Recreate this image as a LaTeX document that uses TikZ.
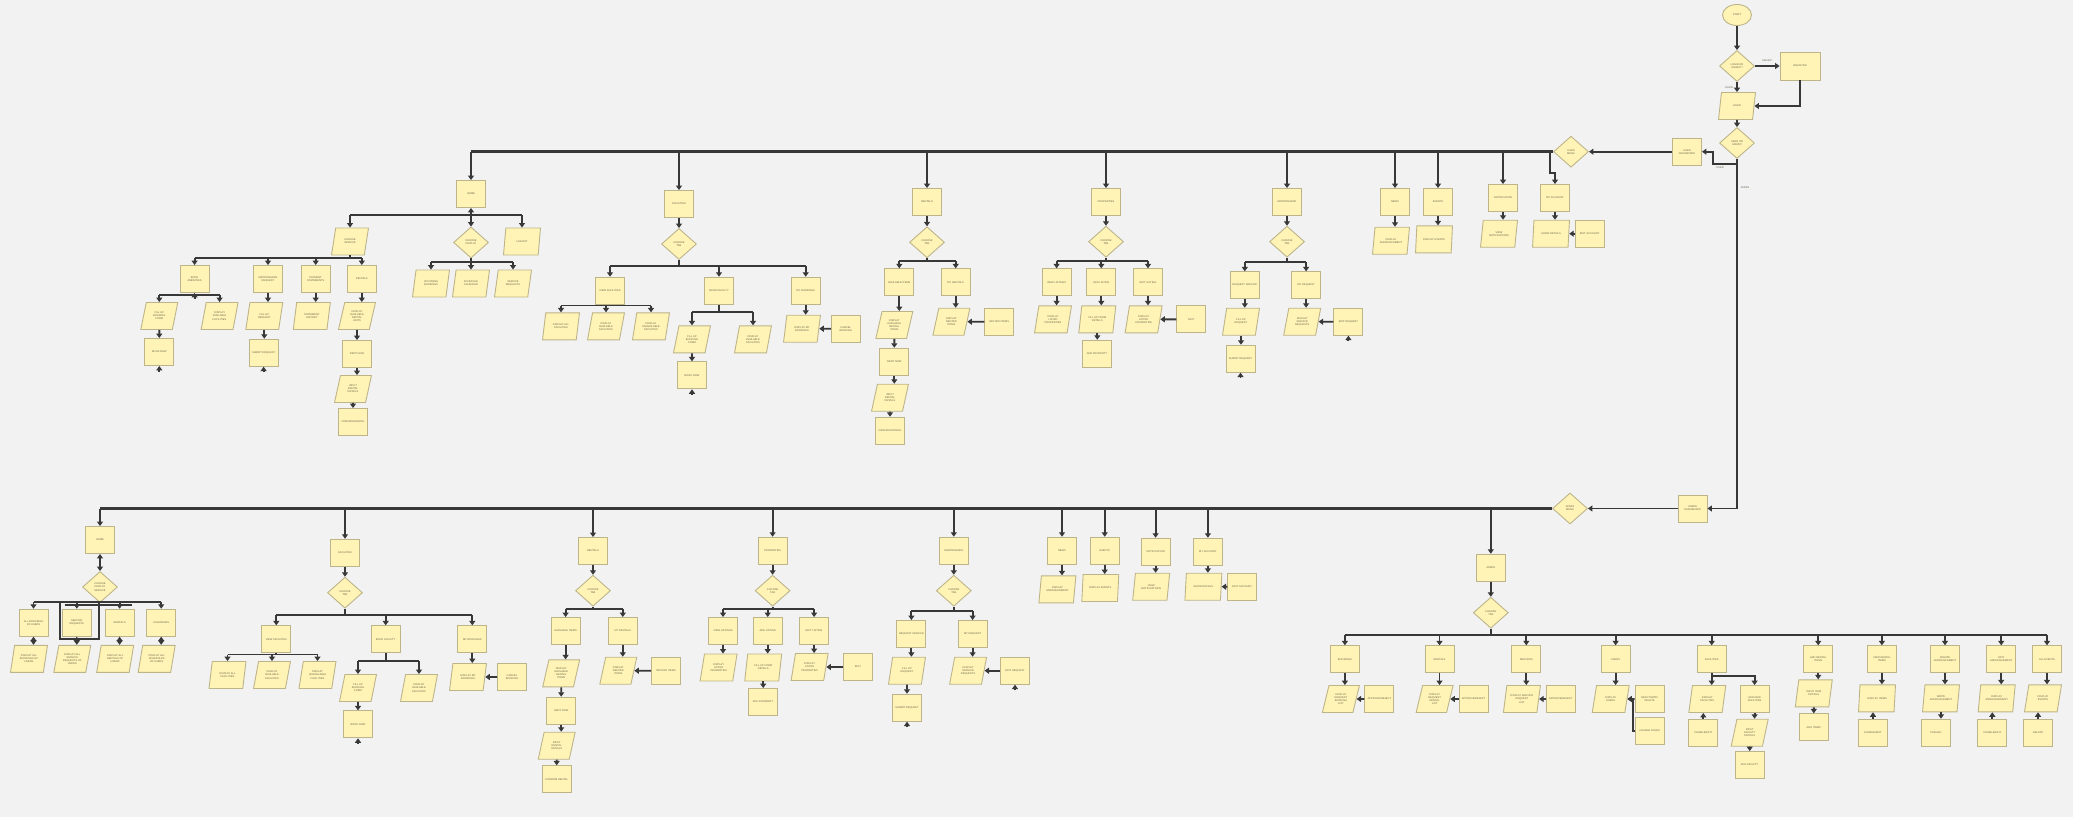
\documentclass[tikz,border=0pt]{standalone}
\usepackage{fontspec}
\setmainfont{Liberation Sans}
\usetikzlibrary{shapes.geometric,arrows.meta}
\definecolor{paper}{HTML}{F2F2F2}
\definecolor{note}{HTML}{FFF4B5}
\definecolor{rim}{HTML}{BDB48A}
\definecolor{ink}{HTML}{383838}
\definecolor{txt}{HTML}{6B6650}
\newcommand\notefont{\fontsize{2.6}{3.1}\selectfont}
\tikzset{
  notebox/.style={draw=rim, fill=note, line width=0.9pt, font=\notefont, text=txt, align=center, inner sep=0.5pt},
  proc/.style={notebox, rectangle, minimum width=29pt, minimum height=27pt},
  io/.style={notebox, trapezium, trapezium left angle=73, trapezium right angle=107, trapezium stretches=true, minimum width=37pt, minimum height=27pt},
  choice/.style={notebox, diamond, aspect=1.13, minimum width=35pt, minimum height=31pt, inner sep=0pt},
  oval/.style={notebox, ellipse, minimum width=29pt, minimum height=21pt},
  flow/.style={draw=ink, line width=1.9pt, -{Triangle[length=4.5pt,width=6pt]}},
  twoway/.style={flow, {Triangle[length=4.5pt,width=6pt]}-{Triangle[length=4.5pt,width=6pt]}},
  barline/.style={draw=ink, line width=1.9pt},
  spine/.style={draw=ink, line width=3pt},
  tag/.style={font=\notefont, text=txt, inner sep=0.5pt},
}
\begin{document}
\begin{tikzpicture}[x=1pt,y=-1pt]
\useasboundingbox (0,0) rectangle (2073,817);
\fill[paper] (0,0) rectangle (2073,817);
% entry
\node[oval] (start) at (1737,15) {START};
\node[choice] (lors) at (1737,66) {LOGIN OR\\SIGNUP?};
\node[proc, minimum width=40pt, minimum height=28pt] (register) at (1800,66) {REGISTER};
\node[io] (login) at (1737,106) {LOGIN};
\node[choice] (uora) at (1737,143) {USER OR\\ADMIN?};
\node[proc] (udash) at (1687,151.7) {USER\\DASHBOARD};
\node[choice] (umenu) at (1571,151.7) {USER\\MENU};
\node[proc] (adash) at (1692.5,508.5) {ADMIN\\DASHBOARD};
\node[choice] (amenu) at (1570,508.5) {ADMIN\\MENU};
\coordinate (ujog) at (1713,164);
\draw[flow] (start) -- (lors);
\draw[flow] (lors) -- (register);
\draw[flow] (lors) -- (login);
\draw[flow] (register.south) |- (login.east);
\draw[flow] (login) -- (uora);
\draw[flow] (uora.south) |- (ujog) |- (udash.east);
\draw[flow] (uora.south) |- (adash.east);
\draw[flow] (udash) -- (umenu);
\draw[flow] (adash) -- (amenu);
\node[tag] (lsignup) at (1767,61) {SIGNUP};
\node[tag] (llogin) at (1729,88) {LOGIN};
\node[tag] (luser) at (1720,168) {USER};
\node[tag] (ladmin) at (1745,188) {ADMIN};

% user menu
\node[proc] (uhome) at (471,194) {HOME};
\node[proc] (ufac) at (679,204) {FACILITIES};
\node[proc] (urnt) at (927,202) {RENTALS};
\node[proc] (uprop) at (1106,202) {PROPERTIES};
\node[proc] (umnt) at (1287,202) {MAINTENANCE};
\node[proc] (unews) at (1395,202) {NEWS};
\node[proc] (uevt) at (1438,202) {EVENTS};
\node[proc] (unotif) at (1503,198) {NOTIFICATION};
\node[proc] (uacct) at (1555,198) {MY ACCOUNT};
\coordinate (ujog2) at (1550,173);
\draw[spine] (umenu.west) -- (umenu.west -| uhome.north);
\foreach \n in {uhome,ufac,urnt,uprop,umnt,unews,uevt,unotif}
  \draw[flow] (umenu.west -| \n.north) -- (\n.north);
\draw[flow] (umenu.west -| ujog2) -- (ujog2) -| (uacct.north);

% user home
\node[io] (userv) at (350,241.5) {CHOOSE\\SERVICE};
\node[choice] (udisp) at (471,242.5) {CHOOSE\\DISPLAY};
\node[io] (ulogout) at (522,241.5) {LOGOUT};
\coordinate (uhomebus) at (0,215.3);
\draw[barline] (userv.north |- uhomebus) -- (ulogout.north |- uhomebus);
\draw[twoway] (uhome) -- (udisp);
\foreach \n in {userv,ulogout}
  \draw[flow] (\n.north |- uhomebus) -- (\n.north);
\node[proc] (uhbook) at (194.6,279) {BOOK\\AMENITIES};
\node[proc] (uhmaint) at (268,279) {MAINTENANCE\\REQUEST};
\node[proc] (uhpay) at (315.7,279) {PAYMENT\\STATEMENTS};
\node[proc] (uhrent) at (361.8,279) {RENTALS};
\coordinate (uservbus) at (0,258);
\draw[barline] (userv.south) -- (userv.south |- uservbus);
\draw[barline] (uhbook.north |- uservbus) -- (uhrent.north |- uservbus);
\foreach \n in {uhbook,uhmaint,uhpay,uhrent}
  \draw[flow] (\n.north |- uservbus) -- (\n.north);
\node[io] (uhbform) at (159.3,316) {FILL UP\\BOOKING\\FORM};
\node[io] (uhbavail) at (219.6,316) {DISPLAY\\AVAILABLE\\FACILITIES};
\node[proc] (uhbnow) at (159.3,352) {BOOK NOW};
\coordinate (uhbookbus) at (0,295);
\coordinate (uhbookin) at (194.6,299);
\coordinate (uhbnowin) at (159.3,371.5);
\draw[barline] (uhbform.north |- uhbookbus) -- (uhbavail.north |- uhbookbus);
\draw[flow] (uhbookin) -- (uhbook.south);
\foreach \n in {uhbform,uhbavail}
  \draw[flow] (\n.north |- uhbookbus) -- (\n.north);
\draw[flow] (uhbform) -- (uhbnow);
\draw[flow] (uhbnowin) -- (uhbnow.south);
\node[io] (uhmfill) at (264.3,316) {FILL UP\\REQUEST};
\node[proc] (uhmsubmit) at (263.6,352.7) {SUBMIT REQUEST};
\coordinate (uhmsubin) at (263.6,372);
\draw[flow] (uhmaint.south) -- (uhmaint.south |- uhmfill.north);
\draw[flow] (uhmfill.south) -- (uhmfill.south |- uhmsubmit.north);
\draw[flow] (uhmsubin) -- (uhmsubmit.south);
\node[io] (uhpstate) at (311.8,316) {STATEMENT\\HISTORY};
\draw[flow] (uhpay.south) -- (uhpay.south |- uhpstate.north);
\node[io] (uhrdisp) at (357,316) {DISPLAY\\AVAILABLE\\RENTAL\\UNITS};
\node[proc] (uhrnow) at (357,354) {RENT NOW};
\node[io] (uhrinput) at (353,389) {INPUT\\RENTAL\\DETAILS};
\node[proc] (uhrconf) at (353,422) {CONFIRM RENTAL};
\draw[flow] (uhrent.south) -- (uhrent.south |- uhrdisp.north);
\draw[flow] (uhrdisp) -- (uhrnow);
\draw[flow] (uhrnow.south) -- (uhrnow.south |- uhrinput.north);
\draw[flow] (uhrinput) -- (uhrconf);
\node[io] (uupcoming) at (431,283.5) {UPCOMING\\BOOKINGS};
\node[io] (ucalendar) at (471,283.5) {SCHEDULE\\CALENDAR};
\node[io] (usreq) at (513,283.5) {SERVICE\\REQUESTS};
\coordinate (udispbus) at (0,262);
\draw[barline] (udisp.south) -- (udisp.south |- udispbus);
\draw[barline] (uupcoming.north |- udispbus) -- (usreq.north |- udispbus);
\foreach \n in {uupcoming,ucalendar,usreq}
  \draw[flow] (\n.north |- udispbus) -- (\n.north);

% user facilities
\node[choice] (ufactab) at (679,244) {CHOOSE\\TAB};
\node[proc] (ufview) at (610,290.7) {VIEW FACILITIES};
\node[proc] (ufbook) at (719,290.7) {BOOK FACILITY};
\node[proc] (ufmy) at (805.7,290.7) {MY BOOKINGS};
\coordinate (ufacbus) at (0,266);
\draw[flow] (ufac) -- (ufactab);
\draw[barline] (ufactab.south) -- (ufactab.south |- ufacbus);
\draw[barline] (ufview.north |- ufacbus) -- (ufmy.north |- ufacbus);
\foreach \n in {ufview,ufbook,ufmy}
  \draw[flow] (\n.north |- ufacbus) -- (\n.north);
\node[io] (ufall) at (561,326.3) {DISPLAY ALL\\FACILITIES};
\node[io] (ufavail) at (606,326.3) {DISPLAY\\AVAILABLE\\FACILITIES};
\node[io] (ufunavail) at (651,326.3) {DISPLAY\\UNAVAILABLE\\FACILITIES};
\coordinate (ufviewbus) at (0,305.5);
\draw[barline] (ufview.south) -- (ufview.south |- ufviewbus);
\draw[barline] (ufall.north |- ufviewbus) -- (ufunavail.north |- ufviewbus);
\foreach \n in {ufall,ufavail,ufunavail}
  \draw[flow] (\n.north |- ufviewbus) -- (\n.north);
\node[io] (ufbform) at (692,339.3) {FILL UP\\BOOKING\\FORM};
\node[io] (ufbavail) at (753,339.3) {DISPLAY\\AVAILABLE\\FACILITIES};
\node[proc] (ufbnow) at (692,375.3) {BOOK NOW};
\coordinate (ufbookbus) at (0,312.3);
\coordinate (ufbnowin) at (692,394.5);
\draw[barline] (ufbook.south) -- (ufbook.south |- ufbookbus);
\draw[barline] (ufbform.north |- ufbookbus) -- (ufbavail.north |- ufbookbus);
\foreach \n in {ufbform,ufbavail}
  \draw[flow] (\n.north |- ufbookbus) -- (\n.north);
\draw[flow] (ufbform) -- (ufbnow);
\draw[flow] (ufbnowin) -- (ufbnow.south);
\node[io] (ufmyd) at (802,328.7) {DISPLAY MY\\BOOKINGS};
\node[proc] (ufcancel) at (845.7,328.7) {CANCEL\\BOOKING};
\draw[flow] (ufmy.south) -- (ufmy.south |- ufmyd.north);
\draw[flow] (ufcancel) -- (ufmyd);

% user rentals
\node[choice] (urnttab) at (927,242.3) {CHOOSE\\TAB};
\node[proc] (urnavail) at (899.3,282.3) {AVAILABLE ITEMS};
\node[proc] (urnmy) at (955.7,282.3) {MY RENTALS};
\coordinate (urntbus) at (0,261);
\draw[flow] (urnt) -- (urnttab);
\draw[barline] (urnttab.south) -- (urnttab.south |- urntbus);
\draw[barline] (urnavail.north |- urntbus) -- (urnmy.north |- urntbus);
\foreach \n in {urnavail,urnmy}
  \draw[flow] (\n.north |- urntbus) -- (\n.north);
\node[io] (urnadisp) at (894.3,325) {DISPLAY\\AVAILABLE\\RENTAL\\ITEMS};
\node[proc] (urnnow) at (894.3,361.7) {RENT NOW};
\node[io] (urninput) at (890,397.7) {INPUT\\RENTAL\\DETAILS};
\node[proc] (urnconf) at (890,430.7) {CONFIRM RENTAL};
\draw[flow] (urnavail.south) -- (urnavail.south |- urnadisp.north);
\draw[flow] (urnadisp) -- (urnnow);
\draw[flow] (urnnow.south) -- (urnnow.south |- urninput.north);
\draw[flow] (urninput) -- (urnconf);
\node[io] (urnmyd) at (951.4,321.7) {DISPLAY\\RENTED\\ITEMS};
\node[proc] (urnreturn) at (999.3,321.7) {RETURN ITEMS};
\draw[flow] (urnmy.south) -- (urnmy.south |- urnmyd.north);
\draw[flow] (urnreturn) -- (urnmyd);

% user properties
\node[choice] (uproptab) at (1106,241.7) {CHOOSE\\TAB};
\node[proc] (uplist) at (1056.6,282.3) {VIEW LISTINGS};
\node[proc] (upadd) at (1101.3,282.3) {ADD LISTING};
\node[proc] (upedit) at (1148,282.3) {EDIT LISTING};
\coordinate (upropbus) at (0,260.7);
\draw[flow] (uprop) -- (uproptab);
\draw[barline] (uproptab.south) -- (uproptab.south |- upropbus);
\draw[barline] (uplist.north |- upropbus) -- (upedit.north |- upropbus);
\foreach \n in {uplist,upadd,upedit}
  \draw[flow] (\n.north |- upropbus) -- (\n.north);
\node[io] (uplistd) at (1053,319.3) {DISPLAY\\LISTED\\PROPERTIES};
\node[io] (upaddf) at (1097.3,319.3) {FILL UP FORM\\DETAILS};
\node[io] (upeditd) at (1143.6,319.3) {DISPLAY\\LISTED\\PROPERTIES};
\node[proc] (upeditbox) at (1191.4,319.3) {EDIT};
\node[proc] (upaddprop) at (1097,353.7) {ADD PROPERTY};
\foreach \a/\b in {uplist/uplistd,upadd/upaddf,upedit/upeditd}
  \draw[flow] (\a.south) -- (\a.south |- \b.north);
\draw[flow] (upaddf.south) -- (upaddf.south |- upaddprop.north);
\draw[flow] (upeditbox) -- (upeditd);

% user maintenance
\node[choice] (umnttab) at (1287,241.7) {CHOOSE\\TAB};
\node[proc] (umnreq) at (1244.8,285.3) {REQUEST SERVICE};
\node[proc] (umnmy) at (1306.1,285.3) {MY REQUEST};
\coordinate (umntbus) at (0,262.3);
\draw[flow] (umnt) -- (umnttab);
\draw[barline] (umnttab.south) -- (umnttab.south |- umntbus);
\draw[barline] (umnreq.north |- umntbus) -- (umnmy.north |- umntbus);
\foreach \n in {umnreq,umnmy}
  \draw[flow] (\n.north |- umntbus) -- (\n.north);
\node[io] (umnfill) at (1241,321.7) {FILL UP\\REQUEST};
\node[proc] (umnsubmit) at (1240.5,358.7) {SUBMIT REQUEST};
\node[io] (umndisp) at (1302.2,321.7) {DISPLAY\\SERVICE\\REQUESTS};
\node[proc] (umnedit) at (1348.4,321.7) {EDIT REQUEST};
\coordinate (umnsubin) at (1240.5,378);
\coordinate (umneditin) at (1348.4,341);
\draw[flow] (umnreq.south) -- (umnreq.south |- umnfill.north);
\draw[flow] (umnfill.south) -- (umnfill.south |- umnsubmit.north);
\draw[flow] (umnsubin) -- (umnsubmit.south);
\draw[flow] (umnmy.south) -- (umnmy.south |- umndisp.north);
\draw[flow] (umnedit) -- (umndisp);
\draw[flow] (umneditin) -- (umnedit.south);

% user news, events, notification, account
\node[io] (unewsd) at (1391,240.7) {DISPLAY\\ANNOUNCEMENT};
\node[io] (uevtd) at (1434,239.3) {DISPLAY EVENTS};
\node[io] (unotifd) at (1499,233.7) {VIEW\\NOTIFICATIONS};
\node[io] (uacctd) at (1551,233.7) {SHOW DETAILS};
\node[proc] (uacctedit) at (1589.6,233.7) {EDIT ACCOUNT};
\foreach \a/\b in {unews/unewsd,uevt/uevtd,unotif/unotifd,uacct/uacctd}
  \draw[flow] (\a.south) -- (\a.south |- \b.north);
\draw[flow] (uacctedit) -- (uacctd);

% admin menu
\node[proc] (ahome) at (100,540) {HOME};
\node[proc] (afac) at (345,552.7) {FACILITIES};
\node[proc] (arnt) at (593,551) {RENTALS};
\node[proc] (aprop) at (772.6,550.7) {PROPERTIES};
\node[proc] (amnt) at (953.8,550.7) {MAINTENANCE};
\node[proc] (anews) at (1062,550.7) {NEWS};
\node[proc] (aevt) at (1104.7,550.7) {EVENTS};
\node[proc] (anotif) at (1155.6,551.7) {NOTIFICATION};
\node[proc] (aacct) at (1207.9,551.7) {MY ACCOUNT};
\node[proc] (aadm) at (1490.8,567.7) {ADMIN};
\draw[spine] (amenu.west) -- (amenu.west -| ahome.north);
\foreach \n in {ahome,afac,arnt,aprop,amnt,anews,aevt,anotif,aacct,aadm}
  \draw[flow] (amenu.west -| \n.north) -- (\n.north);

% admin home
\node[choice] (adisp) at (100,587) {CHOOSE\\DISPLAY\\SERVICE};
\node[proc] (aall) at (33.5,622.7) {ALL BOOKINGS\\OF USERS};
\node[proc] (asreq) at (76.8,622.7) {SERVICE\\REQUESTS};
\node[proc] (arentals) at (119.6,622.7) {RENTALS};
\node[proc] (acal) at (161.2,622.7) {CALENDARS};
\node[io] (aalld) at (29,658.8) {DISPLAY ALL\\BOOKINGS OF\\USERS};
\node[io] (asreqd) at (72.3,658.8) {DISPLAY ALL\\SERVICE\\REQUESTS OF\\USERS};
\node[io] (arentalsd) at (115.2,658.8) {DISPLAY ALL\\RENTALS OF\\USERS};
\node[io] (acald) at (156.7,658.8) {DISPLAY ALL\\SCHEDULES\\OF USERS};
\coordinate (ahomebus) at (0,602.3);
\coordinate (aloopa) at (60.3,602.3);
\coordinate (aloopb) at (99.1,638.7);
\coordinate (aloopc) at (64.7,605.3);
\coordinate (aloopd) at (131.7,605.3);
\draw[twoway] (ahome) -- (adisp);
\draw[barline] (aall.north |- ahomebus) -- (acal.north |- ahomebus);
\draw[barline] (aloopa) |- (aloopb) |- (aloopa);
\draw[barline] (aloopc) -- (aloopd);
\foreach \n in {aall,asreq,arentals,acal}
  \draw[flow] (\n.north |- ahomebus) -- (\n.north);
\foreach \a/\b in {aall/aalld,asreq/asreqd,arentals/arentalsd,acal/acald}
  \draw[twoway] (\a.south) -- (\a.south |- \b.north);

% admin facilities
\node[choice] (afactab) at (345,592.7) {CHOOSE\\TAB};
\node[proc] (afview) at (276.3,639.3) {VIEW FACILITIES};
\node[proc] (afbook) at (385.7,639.3) {BOOK FACILITY};
\node[proc] (afmy) at (472.3,639.3) {MY BOOKINGS};
\coordinate (afacbus) at (0,615);
\draw[flow] (afac) -- (afactab);
\draw[barline] (afactab.south) -- (afactab.south |- afacbus);
\draw[barline] (afview.north |- afacbus) -- (afmy.north |- afacbus);
\foreach \n in {afview,afbook,afmy}
  \draw[flow] (\n.north |- afacbus) -- (\n.north);
\node[io] (afall) at (227.5,675) {DISPLAY ALL\\FACILITIES};
\node[io] (afavail) at (272,675) {DISPLAY\\AVAILABLE\\FACILITIES};
\node[io] (afunavail) at (317.5,675) {DISPLAY\\UNAVAILABLE\\FACILITIES};
\coordinate (afviewbus) at (0,654.5);
\draw[barline] (afview.south) -- (afview.south |- afviewbus);
\draw[barline] (afall.north |- afviewbus) -- (afunavail.north |- afviewbus);
\foreach \n in {afall,afavail,afunavail}
  \draw[flow] (\n.north |- afviewbus) -- (\n.north);
\node[io] (afbform) at (358,688) {FILL UP\\BOOKING\\FORM};
\node[io] (afbavail) at (419,688) {DISPLAY\\AVAILABLE\\FACILITIES};
\node[proc] (afbnow) at (358,724.3) {BOOK NOW};
\coordinate (afbookbus) at (0,661);
\coordinate (afbnowin) at (358,743.5);
\draw[barline] (afbook.south) -- (afbook.south |- afbookbus);
\draw[barline] (afbform.north |- afbookbus) -- (afbavail.north |- afbookbus);
\foreach \n in {afbform,afbavail}
  \draw[flow] (\n.north |- afbookbus) -- (\n.north);
\draw[flow] (afbform) -- (afbnow);
\draw[flow] (afbnowin) -- (afbnow.south);
\node[io] (afmyd) at (468,677) {DISPLAY MY\\BOOKINGS};
\node[proc] (afcancel) at (512,677) {CANCEL\\BOOKING};
\draw[flow] (afmy.south) -- (afmy.south |- afmyd.north);
\draw[flow] (afcancel) -- (afmyd);

% admin rentals
\node[choice] (arnttab) at (593,590.7) {CHOOSE\\TAB};
\node[proc] (arnavail) at (565.6,631) {AVAILABLE ITEMS};
\node[proc] (arnmy) at (622.8,631) {MY RENTALS};
\coordinate (arntbus) at (0,609.3);
\draw[flow] (arnt) -- (arnttab);
\draw[barline] (arnttab.south) -- (arnttab.south |- arntbus);
\draw[barline] (arnavail.north |- arntbus) -- (arnmy.north |- arntbus);
\foreach \n in {arnavail,arnmy}
  \draw[flow] (\n.north |- arntbus) -- (\n.north);
\node[io] (arnadisp) at (561.2,673.3) {DISPLAY\\AVAILABLE\\RENTAL\\ITEMS};
\node[proc] (arnnow) at (561.2,710.7) {RENT NOW};
\node[io] (arninput) at (556.7,745.7) {INPUT\\RENTAL\\DETAILS};
\node[proc] (arnconf) at (556.7,779.3) {CONFIRM RENTAL};
\draw[flow] (arnavail.south) -- (arnavail.south |- arnadisp.north);
\draw[flow] (arnadisp) -- (arnnow);
\draw[flow] (arnnow.south) -- (arnnow.south |- arninput.north);
\draw[flow] (arninput) -- (arnconf);
\node[io] (arnmyd) at (618.3,670.7) {DISPLAY\\RENTED\\ITEMS};
\node[proc] (arnreturn) at (666,670.7) {RETURN ITEMS};
\draw[flow] (arnmy.south) -- (arnmy.south |- arnmyd.north);
\draw[flow] (arnreturn) -- (arnmyd);

% admin properties
\node[choice] (aproptab) at (772.6,590.7) {CHOOSE\\TAB};
\node[proc] (aplist) at (723,631) {VIEW LISTINGS};
\node[proc] (apadd) at (767.7,631) {ADD LISTING};
\node[proc] (apedit) at (814.1,631) {EDIT LISTING};
\coordinate (apropbus) at (0,609.3);
\draw[flow] (aprop) -- (aproptab);
\draw[barline] (aproptab.south) -- (aproptab.south |- apropbus);
\draw[barline] (aplist.north |- apropbus) -- (apedit.north |- apropbus);
\foreach \n in {aplist,apadd,apedit}
  \draw[flow] (\n.north |- apropbus) -- (\n.north);
\node[io] (aplistd) at (718.6,667.5) {DISPLAY\\LISTED\\PROPERTIES};
\node[io] (apaddf) at (763.2,667.5) {FILL UP FORM\\DETAILS};
\node[io] (apeditd) at (809.6,667) {DISPLAY\\LISTED\\PROPERTIES};
\node[proc] (apeditbox) at (857.9,667) {EDIT};
\node[proc] (apaddprop) at (763.2,702) {ADD PROPERTY};
\foreach \a/\b in {aplist/aplistd,apadd/apaddf,apedit/apeditd}
  \draw[flow] (\a.south) -- (\a.south |- \b.north);
\draw[flow] (apaddf.south) -- (apaddf.south |- apaddprop.north);
\draw[flow] (apeditbox) -- (apeditd);

% admin maintenance
\node[choice] (amnttab) at (953.8,590.7) {CHOOSE\\TAB};
\node[proc] (amnreq) at (911.4,634) {REQUEST SERVICE};
\node[proc] (amnmy) at (972.6,634) {MY REQUEST};
\coordinate (amntbus) at (0,610.7);
\draw[flow] (amnt) -- (amnttab);
\draw[barline] (amnttab.south) -- (amnttab.south |- amntbus);
\draw[barline] (amnreq.north |- amntbus) -- (amnmy.north |- amntbus);
\foreach \n in {amnreq,amnmy}
  \draw[flow] (\n.north |- amntbus) -- (\n.north);
\node[io] (amnfill) at (907,670.7) {FILL UP\\REQUEST};
\node[proc] (amnsubmit) at (907,707.7) {SUBMIT REQUEST};
\node[io] (amndisp) at (968.1,670.7) {DISPLAY\\SERVICE\\REQUESTS};
\node[proc] (amnedit) at (1015,670.7) {EDIT REQUEST};
\coordinate (amnsubin) at (907,727);
\coordinate (amneditin) at (1015,690);
\draw[flow] (amnreq.south) -- (amnreq.south |- amnfill.north);
\draw[flow] (amnfill) -- (amnsubmit);
\draw[flow] (amnsubin) -- (amnsubmit.south);
\draw[flow] (amnmy.south) -- (amnmy.south |- amndisp.north);
\draw[flow] (amnedit) -- (amndisp);
\draw[flow] (amneditin) -- (amnedit.south);

% admin news, events, notification, account
\node[io] (anewsd) at (1057.4,589.3) {DISPLAY\\ANNOUNCEMENT};
\node[io] (aevtd) at (1100.3,588) {DISPLAY EVENTS};
\node[io] (anotifd) at (1151.2,586.7) {VIEW\\NOTIFICATIONS};
\node[io] (aacctd) at (1203.4,586.7) {SHOW DETAILS};
\node[proc] (aacctedit) at (1242.2,586.7) {EDIT ACCOUNT};
\foreach \a/\b in {anews/anewsd,aevt/aevtd,anotif/anotifd,aacct/aacctd}
  \draw[flow] (\a.south) -- (\a.south |- \b.north);
\draw[flow] (aacctedit) -- (aacctd);

% admin tools
\node[choice] (aadmtab) at (1490.8,612.7) {CHOOSE\\TAB};
\draw[flow] (aadm) -- (aadmtab);
\node[proc] (ab1) at (1344.9,659.3) {BOOKINGS};
\node[proc] (ab2) at (1439.5,659.3) {RENTALS};
\node[proc] (ab3) at (1526.3,659.3) {SERVICES};
\node[proc] (ab4) at (1615.6,659.3) {USERS};
\node[proc] (ab5) at (1711.7,659.3) {FACILITIES};
\node[proc] (ab6) at (1818.2,659.3) {ADD RENTAL\\ITEMS};
\node[proc] (ab7) at (1881.9,659.3) {VIEW RENTAL\\ITEMS};
\node[proc] (ab8) at (1945,659.3) {CREATE\\ANNOUNCEMENT};
\node[proc] (ab9) at (2001.2,659.3) {EDIT\\ANNOUNCEMENT};
\node[proc] (ab10) at (2047,659.3) {ALL EVENTS};
\coordinate (aadmbus) at (0,635);
\draw[barline] (aadmtab.south) -- (aadmtab.south |- aadmbus);
\draw[barline] (ab1.north |- aadmbus) -- (ab10.north |- aadmbus);
\foreach \n in {ab1,ab2,ab3,ab4,ab5,ab6,ab7,ab8,ab9,ab10}
  \draw[flow] (\n.north |- aadmbus) -- (\n.north);
\node[io] (ab1d) at (1340.9,699) {DISPLAY\\REQUEST\\BOOKING\\LIST};
\node[proc] (ab1ok) at (1379.4,699) {APPROVE/REJECT};
\node[io] (ab2d) at (1434.6,699) {DISPLAY\\REQUEST\\RENTAL\\LIST};
\node[proc] (ab2ok) at (1473.6,699) {APPROVE/REJECT};
\node[io] (ab3d) at (1521.9,699) {DISPLAY SERVICE\\REQUEST\\LIST};
\node[proc] (ab3ok) at (1560.8,699) {APPROVE/REJECT};
\node[io] (ab4d) at (1610.7,699) {DISPLAY\\USERS};
\node[proc] (ab4del) at (1649.6,699) {DEACTIVATE/\\DELETE};
\node[proc] (ab4role) at (1649.6,730.7) {CHANGE ROLES};
\node[io] (ab5d) at (1707.3,699) {DISPLAY\\FACILITIES};
\node[proc] (ab5edit) at (1703.3,732.7) {DISABLE/EDIT};
\node[proc] (ab5new) at (1754.6,699) {ADD NEW\\FACILITIES};
\node[io] (ab5input) at (1749.7,732.7) {INPUT\\FACILITY\\DETAILS};
\node[proc] (ab5add) at (1749.7,765) {ADD FACILITY};
\node[io] (ab6d) at (1813.8,693.3) {INPUT ITEM\\DETAILS};
\node[proc] (ab6add) at (1813.8,727.3) {ADD ITEMS};
\node[io] (ab7d) at (1877,698.3) {DISPLAY ITEMS};
\node[proc] (ab7edit) at (1873,732.7) {DISABLE/EDIT};
\node[io] (ab8d) at (1941,698.3) {WRITE\\ANNOUNCEMENT};
\node[proc] (ab8pub) at (1936,732.7) {PUBLISH};
\node[io] (ab9d) at (1996.7,698.3) {DISPLAY\\ANNOUNCEMENT};
\node[proc] (ab9edit) at (1992.3,732.7) {DISABLE/EDIT};
\node[io] (ab10d) at (2043,698.3) {DISPLAY\\EVENTS};
\node[proc] (ab10del) at (2038,732.7) {DELETE};
\coordinate (ab4jog) at (1633,730.7);
\coordinate (ab5jog) at (0,676);
\foreach \a/\b in {ab1/ab1d,ab2/ab2d,ab3/ab3d,ab4/ab4d,ab5/ab5d,ab6/ab6d,ab7/ab7d,ab8/ab8d,ab9/ab9d,ab10/ab10d}
  \draw[flow] (\a.south) -- (\a.south |- \b.north);
\foreach \a/\b in {ab1ok/ab1d,ab2ok/ab2d,ab3ok/ab3d,ab4del/ab4d}
  \draw[flow] (\a) -- (\b);
\draw[flow] (ab4role.west) -- (ab4jog) |- (ab4d.east);
\draw[flow] (ab5.south |- ab5jog) -| (ab5new.north);
\draw[flow] (ab5new.south) -- (ab5new.south |- ab5input.north);
\draw[flow] (ab5input) -- (ab5add);
\draw[flow] (ab6d) -- (ab6add);
\draw[flow] (ab8d.south) -- (ab8d.south |- ab8pub.north);
\foreach \a/\b in {ab5edit/ab5d,ab7edit/ab7d,ab9edit/ab9d,ab10del/ab10d}
  \draw[flow] (\a.north) -- (\a.north |- \b.south);
\end{tikzpicture}
\end{document}
